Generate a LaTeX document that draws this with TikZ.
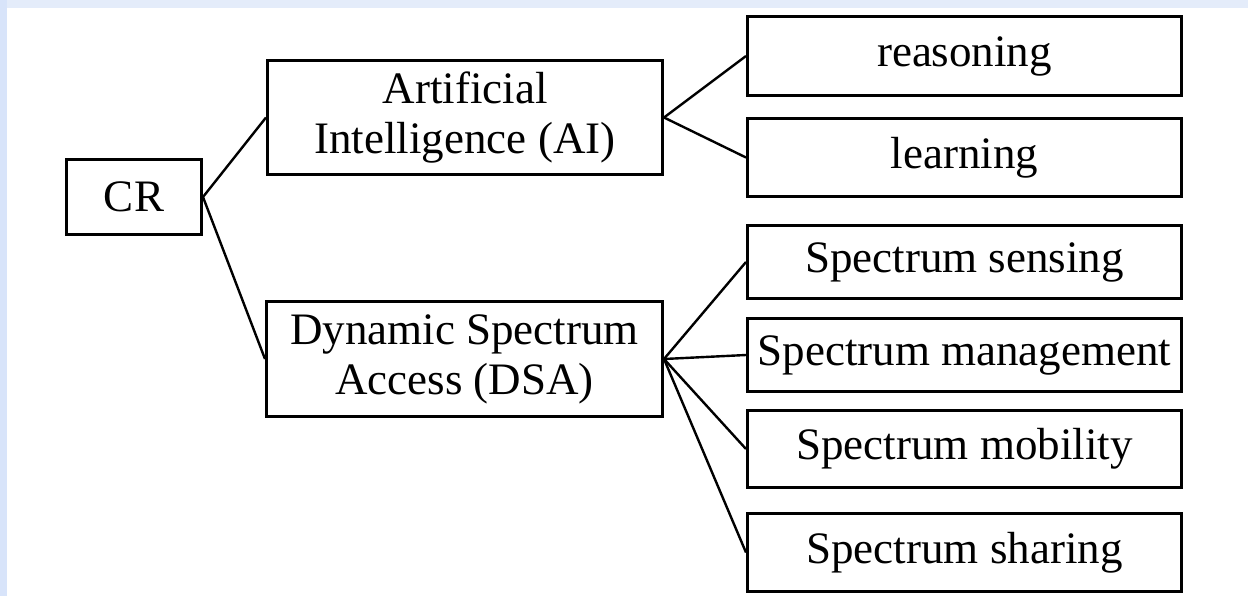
\documentclass[tikz,border=0pt]{standalone}
\usepackage{fontspec}
\setmainfont{Liberation Serif}
\begin{document}
\begin{tikzpicture}[x=1pt,y=-1pt,
  box/.style={draw=black,line width=3pt,fill=white,inner sep=0pt,align=center,
    font=\fontsize{45}{50}\selectfont},
  link/.style={draw=black,line width=2.4pt}]
  % page frame
  \definecolor{stripTop}{HTML}{E4ECFA}
  \definecolor{stripLeft}{HTML}{D8E4FA}
  \useasboundingbox (0,0) rectangle (1248,596);
  \fill[white] (0,0) rectangle (1248,596);
  \fill[stripTop] (0,0) rectangle (1248,8);
  \fill[stripLeft] (0,0) rectangle (7,596);

  % nodes
  \node[box,minimum width=135pt,minimum height=75pt] (cr) at (134,197) {CR};
  \node[box,minimum width=395pt,minimum height=114pt] (ai) at (465,117.5) {Artificial\\Intelligence (AI)};
  \node[box,minimum width=396pt,minimum height=115pt] (dsa) at (464.5,359) {Dynamic Spectrum\\Access (DSA)};
  \node[box,minimum width=434pt,minimum height=79pt] (rea) at (964.5,56) {reasoning};
  \node[box,minimum width=434pt,minimum height=78pt] (lea) at (964.5,157.5) {learning};
  \node[box,minimum width=434pt,minimum height=73pt] (sen) at (964.5,262) {Spectrum sensing};
  \node[box,minimum width=434pt,minimum height=73pt] (man) at (964.5,355) {Spectrum management};
  \node[box,minimum width=434pt,minimum height=77pt] (mob) at (964.5,449) {Spectrum mobility};
  \node[box,minimum width=434pt,minimum height=78pt] (sha) at (964.5,552.5) {Spectrum sharing};

  % connectors
  \draw[link] (cr.east) -- (ai.west);
  \draw[link] (cr.east) -- (dsa.west);
  \draw[link] (ai.east) -- (rea.west);
  \draw[link] (ai.east) -- (lea.west);
  \draw[link] (dsa.east) -- (sen.west);
  \draw[link] (dsa.east) -- (man.west);
  \draw[link] (dsa.east) -- (mob.west);
  \draw[link] (dsa.east) -- (sha.west);
\end{tikzpicture}
\end{document}
